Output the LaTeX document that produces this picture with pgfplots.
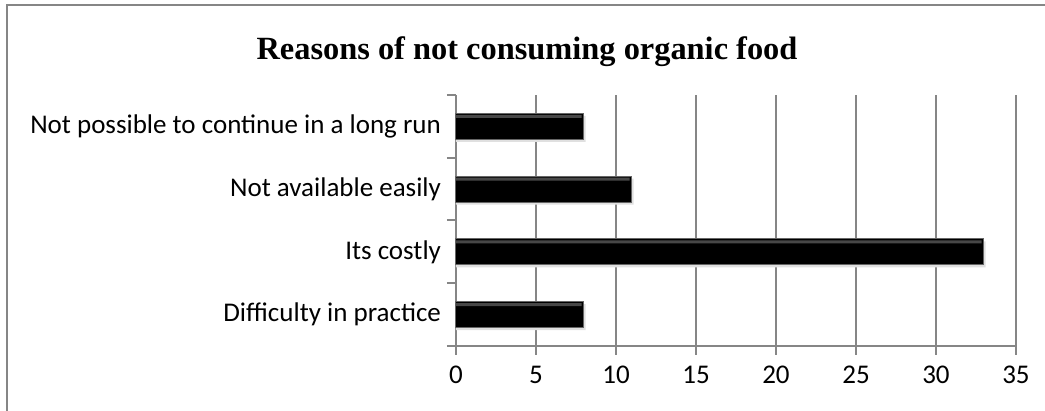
\documentclass[border=0pt]{standalone}
\usepackage{fontspec}
\setmainfont{Carlito}
\newfontfamily\titlefont{Liberation Serif}
\usepackage{pgfplots}
\pgfplotsset{compat=1.18}
\definecolor{gridgray}{RGB}{134,134,134}

\begin{document}
\begin{tikzpicture}
% 1 px of the reference = 0.5 pt
\path[use as bounding box] (0pt,0pt) rectangle (522.5pt,205.5pt);
\draw[gridgray, line width=1pt] (3.5pt,-2pt) -- (3.5pt,203pt) -- (525pt,203pt);
\node[font=\titlefont\bfseries\fontsize{16.2}{19}\selectfont] at (263.5pt,179.5pt) {Reasons of not consuming organic food};

\begin{axis}[
    at={(228pt,32.5pt)}, anchor=south west,
    scale only axis,
    width=280pt, height=125.5pt,
    xbar, bar width=13pt,
    xmin=0, xmax=35,
    ymin=-0.5, ymax=3.5,
    axis lines=left,
    axis line style={gridgray, line width=1pt, -},
    xtick={0,5,...,35},
    xmajorgrids,
    major grid style={gridgray, line width=1pt},
    ytick={-0.5,0.5,...,3.5},
    yticklabels={},
    extra y ticks={0,1,2,3},
    extra y tick labels={Difficulty in practice, Its costly, Not available easily, Not possible to continue in a long run},
    extra y tick style={major tick length=0pt, grid=none},
    ytick style={gridgray, line width=1pt},
    xtick style={gridgray, line width=1pt},
    tick align=outside,
    major tick length=4.5pt,
    tick label style={font=\fontsize{13.5}{16}\selectfont, black},
    /pgf/number format/assume math mode=true,
    xticklabel style={yshift=-2pt},
    yticklabel style={xshift=-4pt},
    clip=false,
]
% shadow
\addplot[bar shift=-1.2pt, draw=none, fill=black!12, forget plot]
    coordinates {(8.1,0) (33.1,1) (11.1,2) (8.1,3)};
% bars
\addplot[bar shift=0pt, draw=black!60, line width=0.5pt, fill=black]
    coordinates {(8,0) (33,1) (11,2) (8,3)};
% top bevel highlight
\addplot[bar shift=5pt, bar width=1.6pt, draw=none, fill=black!72, forget plot]
    coordinates {(7.85,0) (32.85,1) (10.85,2) (7.85,3)};
\end{axis}
\end{tikzpicture}
\end{document}
